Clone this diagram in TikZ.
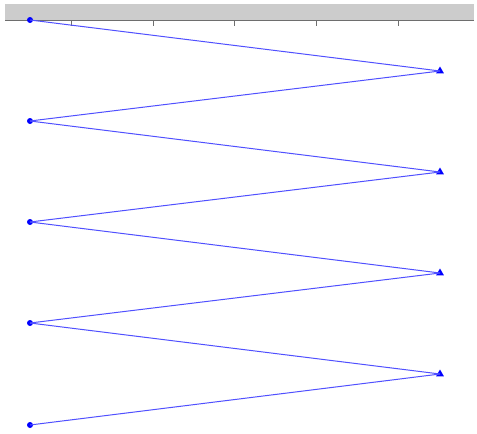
\documentclass[tikz,border=0pt]{standalone}
\usetikzlibrary{shapes.geometric}
\definecolor{bandgray}{RGB}{204,204,204}
\definecolor{axisgray}{RGB}{110,110,110}
\definecolor{wireblue}{RGB}{80,80,255}
\tikzset{
  dot/.style={circle, fill=blue, inner sep=0pt, minimum size=6pt},
  tri/.style={regular polygon, regular polygon sides=3, fill=blue, inner sep=0pt, minimum size=9pt},
  wire/.style={wireblue, line width=1pt}
}
\begin{document}
\begin{tikzpicture}[x=1pt, y=-1pt]
\useasboundingbox (0,0) rectangle (477,434);
\fill[bandgray] (5,4) rectangle (474,20);
\draw[axisgray, line width=1pt] (5,20) -- (474,20);
\foreach \tx in {71,153,234,316,398}
  \draw[axisgray, line width=0.8pt] (\tx,20) -- (\tx,26);
% left column and right column
\foreach \i/\yy in {0/20,1/121,2/222,3/323,4/425}
  \node[dot] (l\i) at (30,\yy) {};
\foreach \i/\yy in {1/71,2/172,3/273,4/374}
  \node[tri] (r\i) at (440,\yy) {};
% zigzag
\foreach \i [evaluate=\i as \j using int(\i-1)] in {1,2,3,4} {
  \draw[wire] (l\j.center) -- (r\i.center);
  \draw[wire] (r\i.center) -- (l\i.center);
}
\end{tikzpicture}
\end{document}
